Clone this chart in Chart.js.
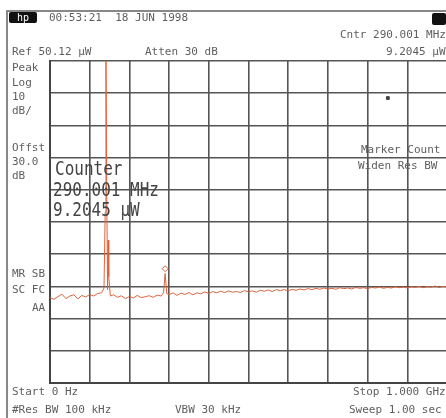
<!DOCTYPE html>
<html>
<head>
<meta charset="utf-8">
<script src="https://cdn.jsdelivr.net/npm/chart.js@4"></script>
<style>
  html, body { margin:0; padding:0; background:#fff; }
  #wrap { position:relative; width:446px; height:418px; overflow:hidden; background:#fff; }
  canvas { position:absolute; left:0; top:0; }
  .t { position:absolute; font-family:"DejaVu Sans Mono","Liberation Mono",monospace; font-size:11px; line-height:11px; color:#5e5e5e; white-space:pre; }
  .big { position:absolute; font-family:"DejaVu Sans Mono","Liberation Mono",monospace; font-size:16px; line-height:16px; color:#444; white-space:pre; transform:scale(1,1.25); transform-origin:left top; }
  .ln { position:absolute; background:#888; }
  .box { position:absolute; background:#111; border-radius:2px; }
</style>
</head>
<body>
<div id="wrap">
  <canvas id="c" width="452" height="418"></canvas>
  <div class="ln" style="left:7px;top:10px;width:439px;height:2px;"></div>
  <div class="ln" style="left:6px;top:10px;width:2px;height:408px;"></div>
  <div class="box" style="left:9px;top:12px;width:28px;height:11px;"><span class="t" style="left:8px;top:0px;color:#fff;font-size:10px;">hp</span></div>
  <div class="box" style="left:432px;top:13px;width:14px;height:12px;"></div>
  <div class="t" style="left:49px;top:12px;">00:53:21  18 JUN 1998</div>
  <div class="t" style="left:12px;top:46px;">Ref 50.12 µW</div>
  <div class="t" style="left:145px;top:46px;">Atten 30 dB</div>
  <div class="t" style="left:340px;top:29px;">Cntr 290.001 MHz</div>
  <div class="t" style="left:386px;top:46px;">9.2045 µW</div>
  <div class="t" style="left:12px;top:62px;">Peak</div>
  <div class="t" style="left:12px;top:77px;">Log</div>
  <div class="t" style="left:12px;top:91px;">10</div>
  <div class="t" style="left:12px;top:105px;">dB/</div>
  <div class="t" style="left:12px;top:142px;">Offst</div>
  <div class="t" style="left:12px;top:156px;">30.0</div>
  <div class="t" style="left:12px;top:170px;">dB</div>
  <div class="t" style="left:12px;top:268px;">MR SB</div>
  <div class="t" style="left:12px;top:284px;">SC FC</div>
  <div class="t" style="left:32px;top:302px;">AA</div>
  <div class="t" style="left:361px;top:144px;">Marker Count</div>
  <div class="t" style="left:358px;top:160px;">Widen Res BW</div>
  <div class="t" style="left:12px;top:386px;">Start 0 Hz</div>
  <div class="t" style="left:12px;top:404px;">#Res BW 100 kHz</div>
  <div class="t" style="left:175px;top:404px;">VBW 30 kHz</div>
  <div class="t" style="left:353px;top:386px;">Stop 1.000 GHz</div>
  <div class="t" style="left:349px;top:404px;">Sweep 1.00 sec</div>
  <div class="big" style="left:55px;top:159px;">Counter</div>
  <div class="big" style="left:53px;top:180px;">290.001 MHz</div>
  <div class="big" style="left:53px;top:200px;">9.2045 µW</div>
</div>
<script>
// Frequency axis (MHz) and trace level (dBm)
const freqs = [0,10,20,30,40,50,60,70,80,90,100,110,120,130,136,139,141,143,145,146.5,148,152,160,170,180,190,200,210,220,230,240,250,260,270,280,286,290,294,300,310,320,330,340,350,360,370,380,390,400,410,420,430,440,450,460,470,480,490,500,510,520,530,540,550,560,570,580,590,600,610,620,630,640,650,660,670,680,690,700,710,720,730,740,750,760,770,780,790,800,810,820,830,840,850,860,870,880,890,900,910,920,930,940,950,960,970,980,990,1000];
const levels = [-86.5,-87.0,-86.2,-85.4,-86.8,-86.0,-85.6,-86.9,-85.8,-86.3,-85.5,-86.0,-85.2,-85.0,-83.5,-60,-13,-55,-84,-68.6,-80,-86,-85.6,-86.4,-85.9,-86.8,-86.1,-86.6,-85.8,-86.5,-86.2,-85.9,-86.4,-85.7,-86.0,-85.0,-79.0,-85.2,-85.6,-85.0,-85.8,-85.1,-85.5,-84.9,-85.6,-85.0,-85.3,-84.7,-85.2,-84.6,-85.0,-84.5,-84.9,-84.4,-84.8,-84.6,-84.9,-84.3,-84.7,-84.4,-84.8,-84.2,-84.5,-84.1,-84.6,-84.0,-84.3,-84.0,-84.4,-83.9,-84.2,-83.8,-84.1,-83.7,-84.0,-83.6,-83.9,-83.5,-83.8,-83.6,-83.9,-83.4,-83.7,-83.5,-83.8,-83.3,-83.6,-83.4,-83.7,-83.3,-83.5,-83.2,-83.6,-83.3,-83.5,-83.1,-83.4,-83.2,-83.5,-83.1,-83.3,-83.0,-83.4,-83.1,-83.2,-82.9,-83.3,-83.0,-83.2];
const markerFreq = [290];
const markerLevel = [-77.5];
const starFreq = [851];
const starLevel = [-24.5];
const refLevel = -13;
const dbPerDiv = 10;

const ctx = document.getElementById('c').getContext('2d');
new Chart(ctx, {
  type: 'line',
  data: {
    datasets: [
      {
        data: freqs.map((f, i) => ({x: f, y: levels[i]})),
        borderColor: '#d9643e',
        borderWidth: 1,
        pointRadius: 0,
        tension: 0
      },
      {
        data: markerFreq.map((f, i) => ({x: f, y: markerLevel[i]})),
        showLine: false,
        pointStyle: 'rectRot',
        pointRadius: 3,
        borderColor: '#d9643e',
        backgroundColor: 'rgba(255,255,255,0)',
        borderWidth: 1
      },
      {
        data: starFreq.map((f, i) => ({x: f, y: starLevel[i]})),
        showLine: false,
        pointStyle: 'rect',
        pointRadius: 2,
        borderColor: '#444',
        backgroundColor: '#444',
        borderWidth: 1
      }
    ]
  },
  options: {
    responsive: false,
    animation: false,
    devicePixelRatio: 1,
    layout: { padding: { left: 50, top: 61, right: 0, bottom: 35 } },
    plugins: { legend: { display: false }, tooltip: { enabled: false } },
    scales: {
      x: {
        type: 'linear', min: 0, max: 1000,
        ticks: { display: false, stepSize: 100 },
        grid: { color: '#555', lineWidth: 1.6, drawTicks: false },
        border: { display: true, color: '#444', width: 2 }
      },
      y: {
        type: 'linear', min: refLevel - 10 * dbPerDiv, max: refLevel,
        ticks: { display: false, stepSize: dbPerDiv },
        grid: { color: '#555', lineWidth: 1.6, drawTicks: false },
        border: { display: true, color: '#444', width: 2 }
      }
    }
  }
});
</script>
</body>
</html>
